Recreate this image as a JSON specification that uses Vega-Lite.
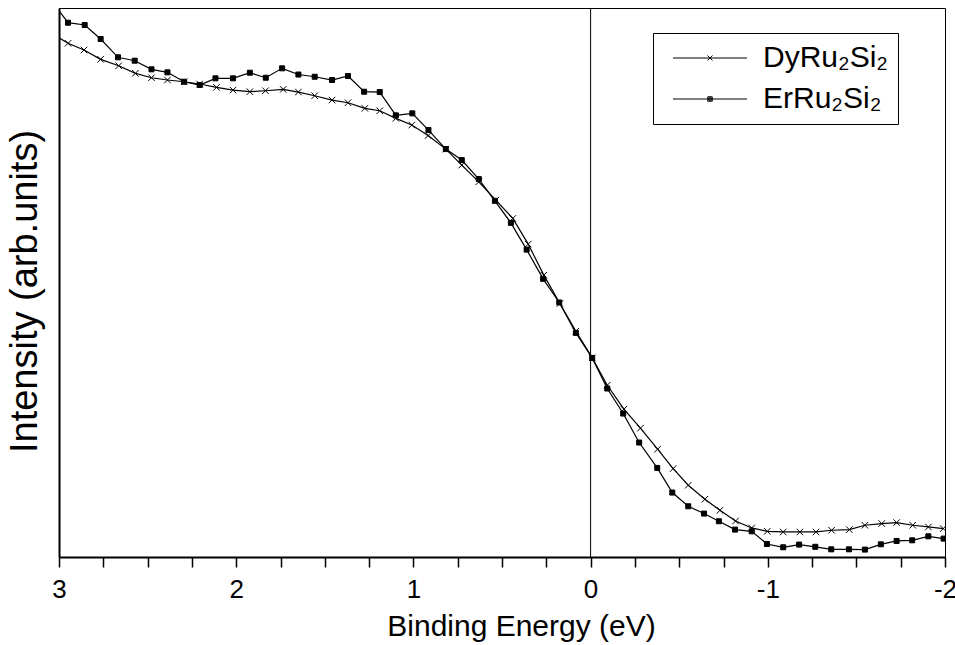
{
  "$schema": "https://vega.github.io/schema/vega-lite/v6.json",
  "width": 886,
  "height": 549,
  "autosize": {"type": "none"},
  "padding": {"left": 59, "top": 8, "right": 10, "bottom": 88},
  "background": "white",
  "config": {
    "view": {"stroke": "black", "strokeWidth": 1},
    "font": "Liberation Sans",
    "axis": {"labelFont": "Liberation Sans", "titleFont": "Liberation Sans", "labelColor": "black", "titleColor": "black", "domainColor": "black", "tickColor": "black", "grid": false, "titleFontWeight": "normal"}
  },
  "datasets": {
    "spectra": [
      {"series": "DyRu₂Si₂", "E": 3.041, "I": 95.41},
      {"series": "DyRu₂Si₂", "E": 2.949, "I": 93.57},
      {"series": "DyRu₂Si₂", "E": 2.859, "I": 92.35},
      {"series": "DyRu₂Si₂", "E": 2.765, "I": 90.65},
      {"series": "DyRu₂Si₂", "E": 2.663, "I": 89.48},
      {"series": "DyRu₂Si₂", "E": 2.569, "I": 88.10},
      {"series": "DyRu₂Si₂", "E": 2.478, "I": 87.30},
      {"series": "DyRu₂Si₂", "E": 2.388, "I": 86.88},
      {"series": "DyRu₂Si₂", "E": 2.294, "I": 86.57},
      {"series": "DyRu₂Si₂", "E": 2.206, "I": 86.15},
      {"series": "DyRu₂Si₂", "E": 2.111, "I": 85.55},
      {"series": "DyRu₂Si₂", "E": 2.018, "I": 85.05},
      {"series": "DyRu₂Si₂", "E": 1.923, "I": 84.75},
      {"series": "DyRu₂Si₂", "E": 1.835, "I": 84.93},
      {"series": "DyRu₂Si₂", "E": 1.735, "I": 85.18},
      {"series": "DyRu₂Si₂", "E": 1.649, "I": 84.69},
      {"series": "DyRu₂Si₂", "E": 1.557, "I": 84.02},
      {"series": "DyRu₂Si₂", "E": 1.459, "I": 83.23},
      {"series": "DyRu₂Si₂", "E": 1.369, "I": 82.74},
      {"series": "DyRu₂Si₂", "E": 1.274, "I": 81.72},
      {"series": "DyRu₂Si₂", "E": 1.190, "I": 81.28},
      {"series": "DyRu₂Si₂", "E": 1.099, "I": 79.90},
      {"series": "DyRu₂Si₂", "E": 1.009, "I": 78.68},
      {"series": "DyRu₂Si₂", "E": 0.917, "I": 76.76},
      {"series": "DyRu₂Si₂", "E": 0.817, "I": 74.30},
      {"series": "DyRu₂Si₂", "E": 0.727, "I": 71.39},
      {"series": "DyRu₂Si₂", "E": 0.631, "I": 68.34},
      {"series": "DyRu₂Si₂", "E": 0.535, "I": 65.01},
      {"series": "DyRu₂Si₂", "E": 0.439, "I": 61.67},
      {"series": "DyRu₂Si₂", "E": 0.352, "I": 56.99},
      {"series": "DyRu₂Si₂", "E": 0.264, "I": 51.34},
      {"series": "DyRu₂Si₂", "E": 0.173, "I": 46.18},
      {"series": "DyRu₂Si₂", "E": 0.083, "I": 41.13},
      {"series": "DyRu₂Si₂", "E": -0.009, "I": 36.27},
      {"series": "DyRu₂Si₂", "E": -0.094, "I": 31.29},
      {"series": "DyRu₂Si₂", "E": -0.188, "I": 26.92},
      {"series": "DyRu₂Si₂", "E": -0.281, "I": 23.46},
      {"series": "DyRu₂Si₂", "E": -0.378, "I": 19.63},
      {"series": "DyRu₂Si₂", "E": -0.466, "I": 16.11},
      {"series": "DyRu₂Si₂", "E": -0.551, "I": 13.07},
      {"series": "DyRu₂Si₂", "E": -0.645, "I": 10.52},
      {"series": "DyRu₂Si₂", "E": -0.730, "I": 8.51},
      {"series": "DyRu₂Si₂", "E": -0.818, "I": 6.56},
      {"series": "DyRu₂Si₂", "E": -0.909, "I": 5.29},
      {"series": "DyRu₂Si₂", "E": -0.997, "I": 4.68},
      {"series": "DyRu₂Si₂", "E": -1.087, "I": 4.56},
      {"series": "DyRu₂Si₂", "E": -1.181, "I": 4.56},
      {"series": "DyRu₂Si₂", "E": -1.272, "I": 4.56},
      {"series": "DyRu₂Si₂", "E": -1.360, "I": 4.87},
      {"series": "DyRu₂Si₂", "E": -1.460, "I": 4.99},
      {"series": "DyRu₂Si₂", "E": -1.548, "I": 5.78},
      {"series": "DyRu₂Si₂", "E": -1.643, "I": 6.09},
      {"series": "DyRu₂Si₂", "E": -1.727, "I": 6.27},
      {"series": "DyRu₂Si₂", "E": -1.818, "I": 5.78},
      {"series": "DyRu₂Si₂", "E": -1.906, "I": 5.47},
      {"series": "DyRu₂Si₂", "E": -1.990, "I": 5.18},
      {"series": "ErRu₂Si₂", "E": 3.041, "I": 101.28},
      {"series": "ErRu₂Si₂", "E": 2.949, "I": 97.32},
      {"series": "ErRu₂Si₂", "E": 2.855, "I": 96.90},
      {"series": "ErRu₂Si₂", "E": 2.765, "I": 94.35},
      {"series": "ErRu₂Si₂", "E": 2.667, "I": 91.02},
      {"series": "ErRu₂Si₂", "E": 2.573, "I": 90.40},
      {"series": "ErRu₂Si₂", "E": 2.478, "I": 88.83},
      {"series": "ErRu₂Si₂", "E": 2.388, "I": 88.28},
      {"series": "ErRu₂Si₂", "E": 2.294, "I": 86.57},
      {"series": "ErRu₂Si₂", "E": 2.206, "I": 85.97},
      {"series": "ErRu₂Si₂", "E": 2.117, "I": 87.19},
      {"series": "ErRu₂Si₂", "E": 2.018, "I": 87.19},
      {"series": "ErRu₂Si₂", "E": 1.923, "I": 88.21},
      {"series": "ErRu₂Si₂", "E": 1.833, "I": 87.30},
      {"series": "ErRu₂Si₂", "E": 1.741, "I": 89.01},
      {"series": "ErRu₂Si₂", "E": 1.649, "I": 87.88},
      {"series": "ErRu₂Si₂", "E": 1.557, "I": 87.48},
      {"series": "ErRu₂Si₂", "E": 1.459, "I": 86.88},
      {"series": "ErRu₂Si₂", "E": 1.369, "I": 87.61},
      {"series": "ErRu₂Si₂", "E": 1.278, "I": 84.75},
      {"series": "ErRu₂Si₂", "E": 1.190, "I": 84.69},
      {"series": "ErRu₂Si₂", "E": 1.099, "I": 80.45},
      {"series": "ErRu₂Si₂", "E": 1.006, "I": 80.81},
      {"series": "ErRu₂Si₂", "E": 0.915, "I": 77.77},
      {"series": "ErRu₂Si₂", "E": 0.817, "I": 74.30},
      {"series": "ErRu₂Si₂", "E": 0.727, "I": 72.30},
      {"series": "ErRu₂Si₂", "E": 0.631, "I": 68.84},
      {"series": "ErRu₂Si₂", "E": 0.540, "I": 64.88},
      {"series": "ErRu₂Si₂", "E": 0.450, "I": 60.87},
      {"series": "ErRu₂Si₂", "E": 0.361, "I": 55.99},
      {"series": "ErRu₂Si₂", "E": 0.268, "I": 50.67},
      {"series": "ErRu₂Si₂", "E": 0.177, "I": 46.36},
      {"series": "ErRu₂Si₂", "E": 0.083, "I": 40.82},
      {"series": "ErRu₂Si₂", "E": -0.009, "I": 36.27},
      {"series": "ErRu₂Si₂", "E": -0.094, "I": 30.69},
      {"series": "ErRu₂Si₂", "E": -0.184, "I": 26.13},
      {"series": "ErRu₂Si₂", "E": -0.274, "I": 20.85},
      {"series": "ErRu₂Si₂", "E": -0.376, "I": 16.22},
      {"series": "ErRu₂Si₂", "E": -0.461, "I": 11.74},
      {"series": "ErRu₂Si₂", "E": -0.551, "I": 9.24},
      {"series": "ErRu₂Si₂", "E": -0.640, "I": 7.91},
      {"series": "ErRu₂Si₂", "E": -0.724, "I": 6.51},
      {"series": "ErRu₂Si₂", "E": -0.815, "I": 4.99},
      {"series": "ErRu₂Si₂", "E": -0.909, "I": 4.68},
      {"series": "ErRu₂Si₂", "E": -0.995, "I": 2.37},
      {"series": "ErRu₂Si₂", "E": -1.087, "I": 1.77},
      {"series": "ErRu₂Si₂", "E": -1.177, "I": 2.26},
      {"series": "ErRu₂Si₂", "E": -1.268, "I": 1.86},
      {"series": "ErRu₂Si₂", "E": -1.358, "I": 1.40},
      {"series": "ErRu₂Si₂", "E": -1.458, "I": 1.40},
      {"series": "ErRu₂Si₂", "E": -1.548, "I": 1.35},
      {"series": "ErRu₂Si₂", "E": -1.638, "I": 2.31},
      {"series": "ErRu₂Si₂", "E": -1.727, "I": 2.92},
      {"series": "ErRu₂Si₂", "E": -1.815, "I": 3.04},
      {"series": "ErRu₂Si₂", "E": -1.906, "I": 3.77},
      {"series": "ErRu₂Si₂", "E": -1.992, "I": 3.35}
    ],
    "fermi": [{"E": 0}]
  },
  "layer": [
    {
      "data": {"name": "fermi"},
      "mark": {"type": "rule", "color": "black", "strokeWidth": 1},
      "encoding": {
        "x": {"field": "E", "type": "quantitative",
          "scale": {"domain": [-2, 3], "reverse": true, "nice": false, "zero": false},
          "axis": {"orient": "bottom",
            "values": [3, 2.75, 2.5, 2.25, 2, 1.75, 1.5, 1.25, 1, 0.75, 0.5, 0.25, 0, -0.25, -0.5, -0.75, -1, -1.25, -1.5, -1.75, -2],
            "ticks": true, "tickSize": 10,
            "tickWidth": 1.5, "domainWidth": 2, "labelFontSize": 26, "labelBaseline": "alphabetic", "labelPadding": 30, "labelFlush": false, "labelOverlap": false,
            "labelExpr": "datum.value % 1 === 0 ? '' + datum.value : ''",
            "encode": {"ticks": {"update": {"y2": {"signal": "datum.value % 1 === 0 ? 10 : 5"}}}},
            "title": "Binding Energy (eV)", "titleFontSize": 30, "titleX": 462, "titleY": 78, "titleBaseline": "alphabetic", "titleAlign": "center", "titleAnchor": null}
        }
      }
    },
    {
      "data": {"name": "spectra"},
      "mark": {"type": "line", "color": "black", "strokeWidth": 1.2, "clip": true},
      "encoding": {
        "x": {"field": "E", "type": "quantitative"},
        "y": {"field": "I", "type": "quantitative",
          "scale": {"domain": [0, 100], "nice": false, "zero": false},
          "axis": {"labels": false, "ticks": false, "domainWidth": 2, "title": "Intensity (arb.units)", "titleFontSize": 38, "titleX": -34, "titleY": 283, "titleBaseline": "middle", "titleAlign": "center", "titleAngle": -90}
        },
        "detail": {"field": "series"}
      }
    },
    {
      "data": {"name": "spectra"},
      "transform": [{"filter": "datum.series === 'DyRu₂Si₂'"}],
      "mark": {"type": "point", "shape": "M-1.3,-1.3L1.3,1.3M-1.3,1.3L1.3,-1.3", "filled": false, "stroke": "black", "strokeWidth": 1, "size": 25, "opacity": 1, "clip": true},
      "encoding": {
        "x": {"field": "E", "type": "quantitative"},
        "y": {"field": "I", "type": "quantitative"}
      }
    },
    {
      "data": {"name": "spectra"},
      "transform": [{"filter": "datum.series === 'ErRu₂Si₂'"}],
      "mark": {"type": "point", "shape": "square", "filled": true, "fill": "black", "stroke": "black", "strokeWidth": 1, "size": 25, "opacity": 1, "clip": true},
      "encoding": {
        "x": {"field": "E", "type": "quantitative"},
        "y": {"field": "I", "type": "quantitative"}
      }
    },
    {
      "data": {"name": "spectra"},
      "transform": [{"filter": "datum.E > 10"}],
      "mark": {"type": "point", "filled": false, "color": "black", "strokeWidth": 1, "opacity": 1},
      "encoding": {
        "x": {"field": "E", "type": "quantitative"},
        "y": {"field": "I", "type": "quantitative"},
        "shape": {"field": "series", "type": "nominal",
          "scale": {"domain": ["DyRu₂Si₂", "ErRu₂Si₂"], "range": ["M-7.4,0L7.4,0M-0.5,-0.5L0.5,0.5M-0.5,0.5L0.5,-0.5", "M-7.4,0L7.4,0M-0.45,-0.45L0.45,-0.45L0.45,0.45L-0.45,0.45ZM-0.25,-0.25L0.25,-0.25L0.25,0.25L-0.25,0.25ZM-0.05,-0.05L0.05,-0.05L0.05,0.05L-0.05,0.05Z"]},
          "legend": {
            "orient": "none", "legendX": 594, "legendY": 25,
            "title": null, "strokeColor": "black", "fillColor": "white", "padding": 10,
            "labelFont": "Liberation Sans", "labelFontSize": 30, "labelColor": "black",
            "symbolSize": 100, "symbolOffset": 32, "labelOffset": 38, "rowPadding": 11,
            "symbolStrokeColor": "black", "symbolFillColor": "transparent", "symbolStrokeWidth": 1, "symbolOpacity": 1
          }
        }
      }
    }
  ]
}
